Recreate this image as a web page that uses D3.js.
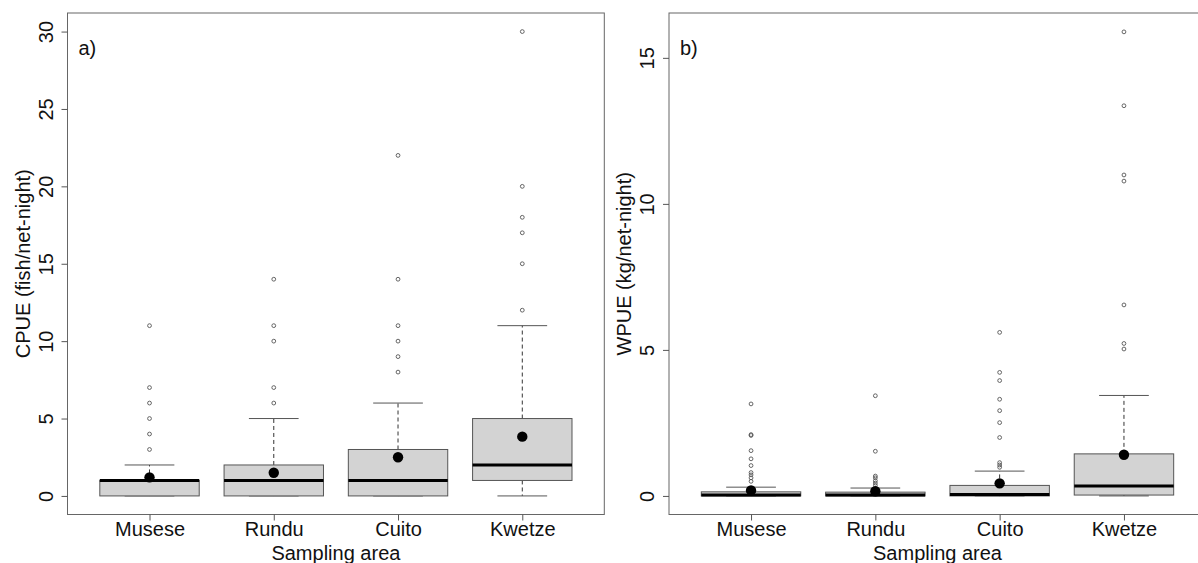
<!DOCTYPE html>
<html>
<head>
<meta charset="utf-8">
<script src="https://cdn.jsdelivr.net/npm/d3@7"></script>
<style>
  body { margin: 0; background: #fff; }
  text { font-family: "Liberation Sans", Arial, sans-serif; fill: #111; }
</style>
</head>
<body>
<svg id="chart" width="1198" height="563"></svg>
<script>
var areas = ["Musese", "Rundu", "Cuito", "Kwetze"];

// panel a) CPUE (fish/net-night)
var cpueQ1 = [0, 0, 0, 1];
var cpueMedian = [1, 1, 1, 2];
var cpueQ3 = [1, 2, 3, 5];
var cpueLow = [0, 0, 0, 0];
var cpueHigh = [2, 5, 6, 11];
var cpueMean = [1.2, 1.5, 2.5, 3.83];
var cpueOutliers = [
  [3, 4, 5, 6, 7, 11],
  [6, 7, 10, 11, 14],
  [8, 9, 10, 11, 14, 22],
  [12, 15, 17, 18, 20, 30]
];
var cpueTicks = [0, 5, 10, 15, 20, 25, 30];

// panel b) WPUE (kg/net-night)
var wpueQ1 = [0, 0, 0, 0.03];
var wpueMedian = [0.03, 0.03, 0.05, 0.34];
var wpueQ3 = [0.14, 0.13, 0.36, 1.44];
var wpueLow = [0, 0, 0, 0];
var wpueHigh = [0.3, 0.27, 0.85, 3.44];
var wpueMean = [0.19, 0.16, 0.43, 1.41];
var wpueOutliers = [
  [3.15, 2.1, 2.07, 1.55, 1.27, 1.04, 0.8, 0.72, 0.62, 0.5],
  [3.43, 1.53, 0.68, 0.62, 0.52, 0.44, 0.36],
  [5.6, 4.23, 3.95, 3.31, 2.92, 2.51, 2.0, 1.14, 1.06, 0.98],
  [15.89, 13.36, 10.99, 10.78, 6.54, 5.22, 5.03]
];
var wpueTicks = [0, 5, 10, 15];

var svg = d3.select("#chart");
var top_ = 13, bottom_ = 514.5;

function drawPanel(p) {
  var x = d3.scaleLinear().domain([0.34, 4.66]).range([p.left, p.right]);
  var y = d3.scaleLinear().domain(p.ylim).range([bottom_, top_]);
  var step = x(2) - x(1);
  var bw = 0.8 * step, sw = 0.4 * step;
  var g = svg.append("g");

  var idx = d3.range(areas.length);

  // whiskers (dashed)
  g.selectAll(".whiskHi").data(idx).enter().append("line")
    .attr("x1", function(i){ return x(i + 1); }).attr("x2", function(i){ return x(i + 1); })
    .attr("y1", function(i){ return y(p.q3[i]); }).attr("y2", function(i){ return y(p.high[i]); })
    .attr("stroke", "#333").attr("stroke-dasharray", "4,3");
  g.selectAll(".whiskLo").data(idx).enter().append("line")
    .attr("x1", function(i){ return x(i + 1); }).attr("x2", function(i){ return x(i + 1); })
    .attr("y1", function(i){ return y(p.q1[i]); }).attr("y2", function(i){ return y(p.low[i]); })
    .attr("stroke", "#333").attr("stroke-dasharray", "4,3");

  // staples
  ["high", "low"].forEach(function(k){
    g.selectAll(".staple-" + k).data(idx).enter().append("line")
      .attr("x1", function(i){ return x(i + 1) - sw / 2; })
      .attr("x2", function(i){ return x(i + 1) + sw / 2; })
      .attr("y1", function(i){ return y(p[k][i]); })
      .attr("y2", function(i){ return y(p[k][i]); })
      .attr("stroke", "#555");
  });

  // boxes
  g.selectAll(".box").data(idx).enter().append("rect")
    .attr("x", function(i){ return x(i + 1) - bw / 2; })
    .attr("y", function(i){ return y(p.q3[i]); })
    .attr("width", bw)
    .attr("height", function(i){ return Math.max(1, y(p.q1[i]) - y(p.q3[i])); })
    .attr("fill", "#d3d3d3").attr("stroke", "#555");

  // medians
  g.selectAll(".median").data(idx).enter().append("line")
    .attr("x1", function(i){ return x(i + 1) - bw / 2; })
    .attr("x2", function(i){ return x(i + 1) + bw / 2; })
    .attr("y1", function(i){ return y(p.median[i]); })
    .attr("y2", function(i){ return y(p.median[i]); })
    .attr("stroke", "#000").attr("stroke-width", 3);

  // outliers
  var pts = [];
  p.outliers.forEach(function(arr, i){ arr.forEach(function(v){ pts.push({i: i, v: v}); }); });
  g.selectAll(".outlier").data(pts).enter().append("circle")
    .attr("cx", function(d){ return x(d.i + 1); })
    .attr("cy", function(d){ return y(d.v); })
    .attr("r", 1.9).attr("fill", "none").attr("stroke", "#555").attr("stroke-width", 0.9);

  // means
  g.selectAll(".mean").data(idx).enter().append("circle")
    .attr("cx", function(i){ return x(i + 1); })
    .attr("cy", function(i){ return y(p.mean[i]); })
    .attr("r", 5.2).attr("fill", "#000");

  // frame
  g.append("rect").attr("x", p.left).attr("y", top_)
    .attr("width", p.right - p.left).attr("height", bottom_ - top_)
    .attr("fill", "none").attr("stroke", "#666");

  // y axis
  var ya = g.append("g").attr("transform", "translate(" + p.left + ",0)")
    .call(d3.axisLeft(y).tickValues(p.ticks).tickSize(6).tickSizeOuter(0).tickFormat(d3.format("d")));
  ya.select(".domain").remove();
  ya.selectAll(".tick line").attr("stroke", "#555");
  ya.selectAll(".tick text")
    .attr("x", null).attr("dy", null)
    .attr("transform", "translate(-15,0) rotate(-90)")
    .attr("text-anchor", "middle")
    .style("font-size", "20px").style("font-family", "Liberation Sans, Arial, sans-serif").attr("fill", "#111");

  // x axis
  var xa = g.append("g").attr("transform", "translate(0," + bottom_ + ")")
    .call(d3.axisBottom(x).tickValues([1, 2, 3, 4]).tickSize(6).tickSizeOuter(0)
      .tickFormat(function(d){ return areas[d - 1]; }));
  xa.select(".domain").remove();
  xa.selectAll(".tick line").attr("stroke", "#555");
  xa.selectAll(".tick text").attr("y", 21.5).attr("dy", null)
    .style("font-size", "20px").style("font-family", "Liberation Sans, Arial, sans-serif").attr("fill", "#111");

  // titles
  g.append("text").attr("x", (x(0.34) + x(4.66)) / 2).attr("y", 559.5)
    .attr("text-anchor", "middle").style("font-size", "20px").text("Sampling area");
  g.append("text")
    .attr("transform", "translate(" + (p.left - 38) + "," + ((top_ + bottom_) / 2) + ") rotate(-90)")
    .attr("text-anchor", "middle").style("font-size", "20px").text(p.ylab);
  g.append("text").attr("x", p.left + 11).attr("y", 55)
    .style("font-size", "20px").text(p.tag);
}

drawPanel({
  left: 67.5, right: 604.3, ylim: [-1.2, 31.2], ticks: cpueTicks,
  q1: cpueQ1, median: cpueMedian, q3: cpueQ3, low: cpueLow, high: cpueHigh,
  mean: cpueMean, outliers: cpueOutliers, ylab: "CPUE (fish/net-night)", tag: "a)"
});
drawPanel({
  left: 669, right: 1206, ylim: [-0.636, 16.536], ticks: wpueTicks,
  q1: wpueQ1, median: wpueMedian, q3: wpueQ3, low: wpueLow, high: wpueHigh,
  mean: wpueMean, outliers: wpueOutliers, ylab: "WPUE (kg/net-night)", tag: "b)"
});
</script>
</body>
</html>
